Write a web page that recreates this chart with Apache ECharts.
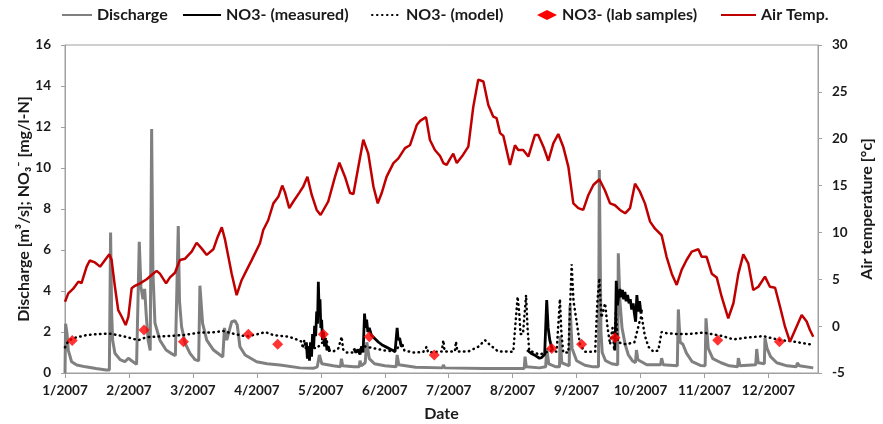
<!DOCTYPE html>
<html>
<head>
<meta charset="utf-8">
<script src="https://cdn.jsdelivr.net/npm/echarts@6/dist/echarts.min.js"></script>
<style>
html,body{margin:0;padding:0;background:#fff;}
#chart{width:883px;height:424px;}
</style>
</head>
<body>
<div id="chart"></div>
<script>
// x values are day-of-year offsets from 1 Jan 2007
const tickLabels = ['1/2007','2/2007','3/2007','4/2007','5/2007','6/2007','7/2007','8/2007','9/2007','10/2007','11/2007','12/2007'];
const tickStepDays = 31;

const discharge = [[0,0],[0.3,2.4],[1,1.9],[1.6,1.1],[3.2,0.55],[5.7,0.39],[10,0.3],[15,0.22],[20,0.15],[21.5,0.15],[22.1,6.85],[22.6,3.0],[23.1,1.6],[24.2,0.96],[26.7,0.65],[29,0.55],[30.7,0.72],[32.3,0.6],[34.7,0.42],[35.4,0.4],[36,6.4],[36.8,4.2],[37.8,3.6],[38.6,4.1],[39.4,2.8],[40.3,1.6],[41.3,1.1],[42,11.9],[42.6,5.0],[43.6,2.44],[46,1.6],[49,1.12],[51.4,0.96],[53.5,0.85],[54.4,0.8],[54.9,7.17],[55.5,3.5],[56.5,2.26],[58.2,1.45],[60.6,0.96],[63,0.65],[64.8,0.6],[65.4,4.26],[66.7,2.42],[68.7,1.6],[72,1.12],[75.2,0.88],[76.5,0.78],[77.3,2.2],[78.4,1.6],[80.8,2.5],[82.4,2.55],[83.5,2.34],[84.8,1.28],[87.3,0.88],[92.9,0.55],[98,0.45],[104.2,0.39],[113.9,0.25],[120.4,0.23],[122.3,0.3],[123.3,0.88],[124.5,0.45],[130,0.35],[133.5,0.3],[134,0.7],[134.6,0.35],[140,0.3],[142.6,0.3],[143,0.6],[143.6,0.35],[145.5,0.5],[146.3,1.5],[147.5,0.7],[150,0.45],[155,0.35],[160.5,0.3],[161,0.88],[161.8,0.4],[170,0.28],[183,0.25],[183.4,0.4],[184,0.25],[203.3,0.22],[203.6,0.3],[204,0.22],[218.8,0.22],[219.2,0.3],[219.6,0.2],[222.6,0.22],[223,0.8],[223.6,0.3],[230,0.25],[233,0.3],[233.5,1.2],[234.5,0.45],[238,0.3],[239.7,0.3],[240,1.8],[240.8,0.5],[244.4,0.35],[244.8,3.3],[245.8,1.2],[248,0.6],[252,0.38],[256,0.3],[258.6,0.3],[259,9.9],[259.8,2.0],[260.4,1.0],[262,0.6],[265,0.45],[267.9,0.4],[268.2,5.84],[269,3.5],[270,2.2],[271.5,1.4],[273,0.9],[275,0.6],[276.5,0.5],[277,1.12],[277.7,0.65],[282,0.4],[285,0.4],[288.7,0.4],[289.2,0.72],[290,0.4],[296.8,0.35],[297.3,3.1],[298.2,1.5],[299.5,1.4],[301.3,0.96],[304,0.55],[308,0.37],[310.3,0.35],[310.7,2.67],[311.8,1.2],[314,0.7],[318,0.5],[322,0.35],[326,0.3],[326.4,0.73],[327.2,0.35],[334.8,0.4],[335.3,1.17],[336,0.5],[339,0.45],[339.3,1.7],[340.3,1.2],[342,0.8],[345,0.5],[350,0.35],[354.5,0.3],[355,0.5],[356,0.35],[362.7,0.25]];

const no3Measured1 = [[117,1.5],[117.5,0.7],[118,1.3],[118.5,0.6],[119,1.5],[119.5,0.8],[120,1.9],[120.5,1.2],[121,2.3],[121.5,1.8],[122,3.0],[122.4,2.4],[122.8,4.45],[123.2,3.0],[123.6,3.6],[124,2.2],[124.4,2.6],[124.8,1.6],[125.3,2.0],[125.8,1.3],[126.4,1.6],[127,1.1],[127.6,1.3],[128.3,1.05]];
const no3Measured2 = [[140,1.2],[141,1.0],[142,1.15],[143,0.9],[143.8,1.3],[144.5,1.0],[145.2,2.9],[145.7,2.2],[146.2,2.6],[146.8,2.0],[147.5,2.2],[148.5,1.85],[150,1.7],[152,1.5],[154,1.35],[156,1.25],[158,1.15],[160,1.05],[160.7,1.1],[161,2.2],[161.5,1.6],[162.2,1.7],[163,1.3],[164,1.35]];
const no3Measured3 = [[224,1.12],[226,0.95],[228,0.85],[230,0.72],[231,0.75],[232.5,0.9],[233.5,3.56],[234.2,2.2],[235,1.6],[235.9,1.25],[236.5,1.1]];
const no3Measured4 = [[266.5,1.1],[266.9,2.5],[267.2,4.5],[267.8,3.3],[268.4,3.8],[269,4.1],[269.6,3.7],[270.2,4.05],[270.8,3.6],[271.4,3.95],[272,3.5],[272.7,3.8],[273.4,3.4],[274,3.6],[274.7,3.1],[275.4,3.4],[276,2.9],[276.6,2.5],[277.2,3.8],[277.9,3.0],[278.5,3.5],[279.2,2.9],[279.5,3.1]];

const no3Model = [[0,1.25],[1.5,1.55],[4,1.7],[10.5,1.85],[16,1.9],[21.8,1.92],[28,1.8],[35.5,1.6],[39.6,1.75],[49.3,1.8],[57.4,1.85],[65.4,1.97],[71,1.97],[76.7,2.05],[81.5,1.92],[88,1.78],[94.5,1.92],[97,2.0],[101,1.85],[107.5,1.78],[110.7,1.7],[114.7,1.53],[115.3,1.2],[116,1.6],[116.6,1.2],[117,1.3],[122,1.2],[126.8,1.7],[127.5,1.1],[130,1.05],[132.5,1.2],[134.1,1.77],[134.8,1.15],[136.5,1.0],[140.6,1.0],[145,1.3],[150,1.2],[155,1.1],[160,1.05],[163.2,1.5],[164,1.53],[164.5,1.1],[168.8,1.0],[173.6,1.02],[175.3,1.28],[176,1.0],[182.6,1.05],[183.4,1.6],[184,1.05],[189,1.05],[189.5,1.53],[190.2,1.05],[195.5,1.05],[200.3,1.28],[203.6,1.6],[206,1.37],[210,1.05],[217.3,1.04],[218.1,1.04],[219.4,3.72],[220.2,2.9],[220.8,1.9],[222,1.9],[223.5,3.8],[224.2,2.2],[225,1.1],[230,0.9],[236,1.1],[238.3,1.04],[239.9,3.6],[240.6,2.0],[241.5,1.0],[244,1.0],[245.6,5.3],[246.5,3.5],[248,2.5],[249.6,1.4],[252,1.04],[257,1.04],[258,3.4],[259,4.62],[260,2.7],[261.8,3.4],[263,2.2],[264.2,1.4],[265.4,2.2],[266.2,1.1],[267,3.0],[268,1.5],[272,1.4],[276,1.5],[278.5,2.5],[279.5,2.8],[281,1.85],[282.8,1.28],[285.2,1.04],[287.6,1.1],[289.2,2.0],[291,1.95],[296.5,1.9],[302,1.9],[309.4,1.97],[318.8,1.8],[324,1.64],[330,1.72],[338.5,1.8],[346.6,1.6],[352,1.55],[361.1,1.4]];

const labSamples = [[3.5,1.58],[38.3,2.1],[57.4,1.53],[88.9,1.89],[103.1,1.4],[125.2,1.89],[147.5,1.77],[179,0.88],[235.9,1.2],[250.4,1.4],[266.6,1.72],[316.4,1.6],[346.3,1.53]];

const airTemp = [[0,2.6],[1.6,3.5],[4,4.0],[6.5,4.75],[8,4.6],[10.5,6.35],[12,7.0],[14.5,6.8],[17,6.35],[19.4,7.05],[21.5,7.66],[22.6,7.05],[24.2,4.2],[25.8,1.7],[27.5,1.0],[29.4,0.12],[30.7,1.0],[32.3,4.04],[33.9,4.3],[36.4,4.57],[39.6,5.0],[42,5.46],[44.4,5.9],[46,5.6],[49,4.57],[50.9,5.2],[53.3,5.7],[55.7,7.06],[58.2,7.2],[61.4,7.95],[63.8,8.9],[66.2,8.3],[68.7,7.6],[71.9,8.2],[73.8,9.4],[76,10.55],[77.6,9.2],[80.8,5.6],[83.2,3.3],[85.6,4.9],[88.1,6.0],[90.5,7.05],[94.5,8.84],[96.1,10.26],[98.5,11.3],[101,13.1],[103.4,13.8],[105.3,15.0],[106.6,14.3],[108.7,12.6],[110.7,13.3],[113.6,14.25],[115.5,14.9],[117.5,15.95],[119.6,14.0],[122,12.4],[123.9,11.86],[127.6,13.3],[130.9,15.95],[133,17.44],[135.7,15.95],[138.2,14.2],[139.8,14.1],[142.2,17.0],[144.6,19.9],[147,18.4],[149.5,14.9],[151.6,13.1],[153.5,14.2],[155.9,15.95],[159.2,17.4],[161.6,17.9],[164.8,19.0],[167.2,19.3],[170.5,21.46],[172.1,21.9],[175,22.3],[176.9,19.86],[179.3,18.8],[181.8,18.16],[183.4,17.4],[185,17.2],[186.5,17.8],[188.2,18.4],[189.9,17.4],[193,18.3],[195.5,19.15],[197.9,23.4],[200.3,26.3],[202.8,26.1],[205.2,23.6],[207.6,22.35],[209.2,22.2],[210.9,20.6],[212.5,20.3],[215.7,17.2],[218.1,19.3],[219.7,18.8],[222.1,18.8],[224.6,18.1],[227.8,20.4],[229.4,20.4],[231.9,19.15],[234.3,17.65],[236.7,19.5],[239.1,20.5],[241.5,19.15],[244,17.0],[246.4,13.1],[248.8,12.6],[251.2,12.4],[253.7,14.0],[256.1,15.06],[259,15.67],[261.7,14.5],[264.2,13.1],[266.6,12.9],[269,12.4],[271.5,12.04],[273.9,12.6],[276.3,15.2],[278.7,14.35],[281.1,13.1],[283.6,11.15],[286,10.4],[289.2,9.7],[291.6,7.4],[294.1,5.6],[296.5,4.4],[298.9,6.0],[301.3,7.06],[303.8,7.95],[307,8.2],[308.6,7.4],[311,7.4],[313.5,5.6],[315.9,5.2],[318.3,3.14],[321.5,0.84],[324,2.44],[326.4,5.6],[328.8,7.66],[331.2,6.7],[333.6,3.86],[336.1,4.2],[339.3,5.28],[341.7,4.2],[344.2,4.1],[346.6,2.07],[349,-0.06],[351.4,-1.66],[353.9,-0.41],[357.1,1.19],[359.5,0.5],[361.1,-0.41],[362.7,-1.13]];

const FONT = 'Lato';
const chart = echarts.init(document.getElementById('chart'), null, {renderer: 'canvas'});
const axisLineStyle = {color: '#a0a0a0', width: 1};
const labelStyle = {fontFamily: FONT, fontWeight: 'bold', fontSize: 13.5, color: '#1a1a1a'};
const legendText = {fontFamily: FONT, fontWeight: 'bold', fontSize: 16, color: '#1a1a1a'};
const nameStyle = {fontFamily: FONT, fontWeight: 'bold', fontSize: 16, color: '#1a1a1a'};

function legendAt(name, left, width, extra) {
  return Object.assign({
    data: [name], left: left, top: 7, itemWidth: width, itemHeight: 12,
    textStyle: legendText, selectedMode: false, padding: 0,
    itemStyle: {opacity: 0}
  }, extra || {});
}

const measuredLine = {color: '#000', width: 2.8};
function measuredSeries(data) {
  return {name: 'NO3- (measured)', type: 'line', yAxisIndex: 0, data: data,
    showSymbol: false, symbol: 'none', lineStyle: measuredLine, itemStyle: {color: '#000'}, z: 4};
}

chart.setOption({
  animation: false,
  backgroundColor: '#fff',
  grid: {left: 65, right: 65, top: 45, bottom: 51, show: true, borderColor: '#a0a0a0', borderWidth: 1,
    containLabel: false, outerBoundsMode: 'none'},
  legend: [
    legendAt('Discharge', 61, 30),
    legendAt('NO3- (measured)', 182, 38),
    legendAt('NO3- (model)', 371, 29),
    legendAt('NO3- (lab samples)', 537, 20, {itemHeight: 10, symbolKeepAspect: true, itemStyle: {opacity: 1}}),
    legendAt('Air Temp.', 720, 35)
  ],
  xAxis: {
    type: 'value', min: 0, max: 365, interval: tickStepDays,
    name: 'Date', nameLocation: 'middle', nameGap: 33, nameMoveOverlap: false,
    nameTextStyle: nameStyle,
    axisLine: {show: true, lineStyle: axisLineStyle},
    axisTick: {show: true, inside: false, length: 5, lineStyle: axisLineStyle},
    splitLine: {show: false},
    axisLabel: Object.assign({margin: 11, showMaxLabel: false, formatter: function (v) {
      const i = Math.round(v / tickStepDays);
      return (Math.abs(v - i * tickStepDays) < 1e-6 && i < tickLabels.length) ? tickLabels[i] : '';
    }}, labelStyle)
  },
  yAxis: [{
    type: 'value', min: 0, max: 16, interval: 2, position: 'left',
    name: 'Discharge [m³/s]; NO₃⁻ [mg/l-N]', nameLocation: 'middle', nameGap: 33, nameRotate: 90, nameMoveOverlap: false,
    nameTextStyle: nameStyle,
    axisLine: {show: true, lineStyle: axisLineStyle},
    axisTick: {show: true, inside: false, length: 4, lineStyle: axisLineStyle},
    splitLine: {show: false},
    axisLabel: Object.assign({margin: 14}, labelStyle)
  }, {
    type: 'value', min: -5, max: 30, interval: 5, position: 'right',
    name: 'Air temperature [°c]', nameLocation: 'middle', nameGap: 39, nameRotate: 90,
    nameTextStyle: nameStyle,
    axisLine: {show: true, lineStyle: axisLineStyle},
    axisTick: {show: true, inside: false, length: 4, lineStyle: axisLineStyle},
    splitLine: {show: false},
    axisLabel: Object.assign({margin: 14}, labelStyle)
  }],
  series: [
    {name: 'Discharge', type: 'line', yAxisIndex: 0, data: discharge, showSymbol: false, symbol: 'none',
      lineStyle: {color: '#808080', width: 3}, itemStyle: {color: '#808080'}, z: 2},
    measuredSeries(no3Measured1),
    measuredSeries(no3Measured2),
    measuredSeries(no3Measured3),
    measuredSeries(no3Measured4),
    {name: 'NO3- (model)', type: 'line', yAxisIndex: 0, data: no3Model, showSymbol: false, symbol: 'none',
      lineStyle: {color: '#000', width: 2.5, type: [0.5, 4.5], cap: 'round'}, itemStyle: {color: '#000'}, z: 3},
    {name: 'NO3- (lab samples)', type: 'scatter', yAxisIndex: 0, data: labSamples, symbol: 'diamond', symbolSize: 11,
      symbolKeepAspect: true, itemStyle: {color: '#ff0000'}, z: 6},
    {name: 'Air Temp.', type: 'line', yAxisIndex: 1, data: airTemp, showSymbol: false, symbol: 'none',
      lineStyle: {color: '#c00000', width: 2.5}, itemStyle: {color: '#c00000'}, z: 5}
  ]
});
</script>
</body>
</html>
